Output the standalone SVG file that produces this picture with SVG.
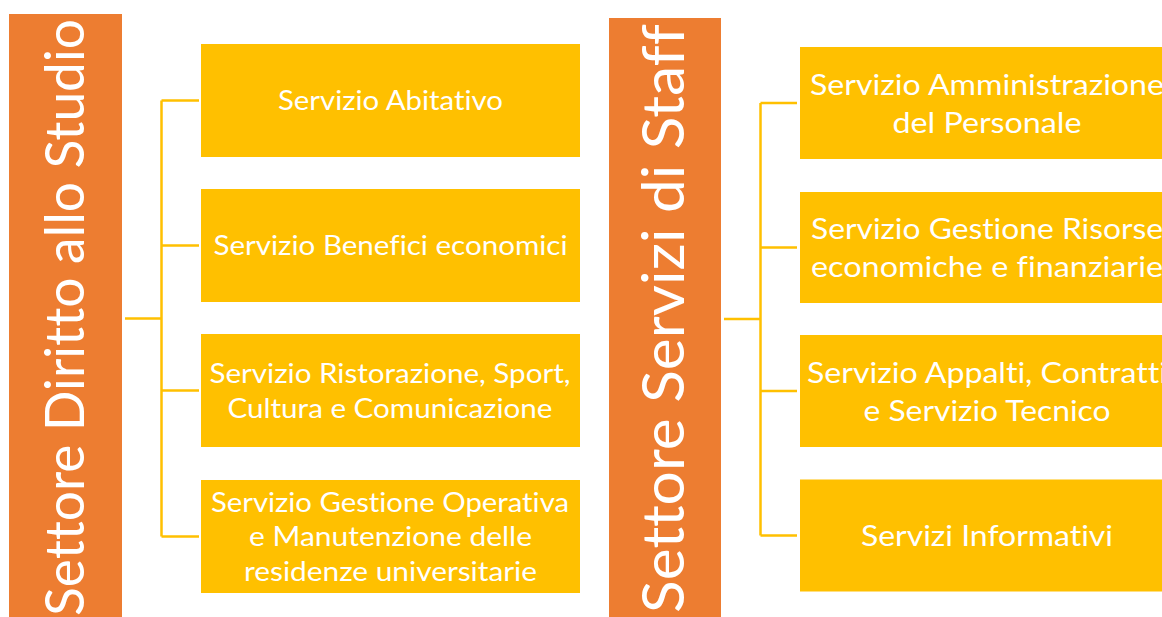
<svg xmlns="http://www.w3.org/2000/svg" width="1162" height="617" viewBox="0 0 1162 617">
  <style>
    .parent { fill: #ED7D31; }
    .child { fill: #FFC000; }
    .t { fill: #FFFFFF; font-family: "Lato", "Open Sans", "Liberation Sans", sans-serif; text-anchor: middle; font-variant-ligatures: none; font-feature-settings: "liga" 0, "clig" 0, "dlig" 0; }
    .tl { font-size: 27px; }
    .tr { font-size: 29.5px; }
    .tv { font-size: 54px; }
    .tv2 { font-size: 58px; }
    .conn { fill: none; stroke: #FFC000; stroke-width: 2.5; }
  </style>
  <rect width="1162" height="617" fill="#FFFFFF"/>

  <g id="connectors">
    <path class="conn" d="M125 318.5 H161.5 M161.5 100.5 V536.5 M161.5 100.5 H199 M161.5 245.5 H199 M161.5 390.5 H199 M161.5 536.5 H199"/>
    <path class="conn" d="M724 319 H760.5 M760.5 103 V535.5 M760.5 103 H797 M760.5 247.5 H797 M760.5 391 H797 M760.5 535.5 H797"/>
  </g>

  <g id="settore-diritto-studio">
    <rect class="parent" x="9" y="14" width="113" height="620"/>
    <text class="t tv" transform="translate(83.5,317.5) rotate(-90)" x="0" y="0" textLength="597" lengthAdjust="spacingAndGlyphs">Settore Diritto allo Studio</text>
  </g>

  <g id="servizio-abitativo">
    <rect class="child" x="201" y="44" width="379" height="113"/>
    <text class="t tl" x="390.5" y="110" textLength="225" lengthAdjust="spacingAndGlyphs">Servizio Abitativo</text>
  </g>

  <g id="servizio-benefici">
    <rect class="child" x="201" y="189" width="379" height="113"/>
    <text class="t tl" x="390.5" y="255" textLength="354" lengthAdjust="spacingAndGlyphs">Servizio Benefici economici</text>
  </g>

  <g id="servizio-ristorazione">
    <rect class="child" x="201" y="334" width="379" height="113"/>
    <text class="t tl" x="390" y="382.7" textLength="361" lengthAdjust="spacingAndGlyphs">Servizio Ristorazione, Sport,</text>
    <text class="t tl" x="390" y="417.7" textLength="325" lengthAdjust="spacingAndGlyphs">Cultura e Comunicazione</text>
  </g>

  <g id="servizio-gestione-operativa">
    <rect class="child" x="201" y="480" width="379" height="113"/>
    <text class="t tl" x="390" y="511.5" textLength="358" lengthAdjust="spacingAndGlyphs">Servizio Gestione Operativa</text>
    <text class="t tl" x="390.5" y="546" textLength="283" lengthAdjust="spacingAndGlyphs">e Manutenzione delle</text>
    <text class="t tl" x="390.5" y="580.5" textLength="293" lengthAdjust="spacingAndGlyphs">residenze universitarie</text>
  </g>

  <g id="settore-servizi-staff">
    <rect class="parent" x="609" y="18" width="112" height="620"/>
    <text class="t tv2" transform="translate(684,318.5) rotate(-90)" x="0" y="0" textLength="589" lengthAdjust="spacingAndGlyphs">Settore Servizi di Staff</text>
  </g>

  <g id="servizio-amministrazione">
    <rect class="child" x="800" y="47" width="378" height="112"/>
    <text class="t tr" x="987" y="95" textLength="354" lengthAdjust="spacingAndGlyphs">Servizio Amministrazione</text>
    <text class="t tr" x="987" y="133" textLength="189" lengthAdjust="spacingAndGlyphs">del Personale</text>
  </g>

  <g id="servizio-risorse">
    <rect class="child" x="800" y="192" width="378" height="111"/>
    <text class="t tr" x="987" y="238.5" textLength="352" lengthAdjust="spacingAndGlyphs">Servizio Gestione Risorse</text>
    <text class="t tr" x="987" y="276.5" textLength="352" lengthAdjust="spacingAndGlyphs">economiche e finanziarie</text>
  </g>

  <g id="servizio-appalti">
    <rect class="child" x="800" y="335" width="378" height="112"/>
    <text class="t tr" x="987" y="382.5" textLength="360" lengthAdjust="spacingAndGlyphs">Servizio Appalti, Contratti</text>
    <text class="t tr" x="987" y="420.5" textLength="247" lengthAdjust="spacingAndGlyphs">e Servizio Tecnico</text>
  </g>

  <g id="servizi-informativi">
    <rect class="child" x="800" y="479.5" width="378" height="112"/>
    <text class="t tr" x="987" y="545.5" textLength="252" lengthAdjust="spacingAndGlyphs">Servizi Informativi</text>
  </g>
</svg>
